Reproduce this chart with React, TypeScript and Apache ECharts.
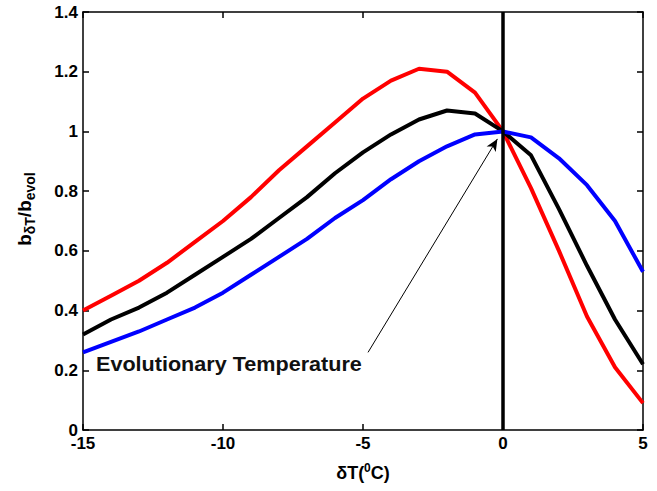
import React, { useEffect, useRef } from "react";
import * as echarts from "echarts";

const xValues = [-15, -14, -13, -12, -11, -10, -9, -8, -7, -6, -5, -4, -3, -2, -1, 0, 1, 2, 3, 4, 5];
const redValues = [0.40, 0.45, 0.50, 0.56, 0.63, 0.70, 0.78, 0.87, 0.95, 1.03, 1.11, 1.17, 1.21, 1.20, 1.13, 1.0, 0.81, 0.60, 0.38, 0.21, 0.09];
const blackValues = [0.32, 0.37, 0.41, 0.46, 0.52, 0.58, 0.64, 0.71, 0.78, 0.86, 0.93, 0.99, 1.04, 1.07, 1.06, 1.0, 0.92, 0.74, 0.55, 0.37, 0.22];
const blueValues = [0.26, 0.295, 0.33, 0.37, 0.41, 0.46, 0.52, 0.58, 0.64, 0.71, 0.77, 0.84, 0.90, 0.95, 0.99, 1.0, 0.98, 0.91, 0.82, 0.70, 0.53];
const annotationText = "Evolutionary Temperature";
const arrowStart = [-4.82, 0.26];
const arrowEnd = [-0.2, 0.975];

const FONT = "Liberation Sans, Arial, sans-serif";

export default function App() {
  const ref = useRef<HTMLDivElement>(null);
  useEffect(() => {
    document.body.style.margin = "0";
    if (!ref.current) return;
    const chart = echarts.init(ref.current, undefined, { renderer: "svg" });
    const mk = (vals: number[]) => xValues.map((x, i) => [x, vals[i]]);
    const lineSeries = (name: string, vals: number[], color: string) => ({
      name,
      type: "line",
      data: mk(vals),
      symbol: "none",
      smooth: false,
      lineStyle: { color, width: 4 },
      itemStyle: { color },
      z: 3,
    });
    const tickStyle = { show: true, inside: true, length: 6, lineStyle: { color: "#000", width: 1.5 } };
    const lineStyleAxis = { show: true, onZero: false, lineStyle: { color: "#000", width: 1.5 } };
    chart.setOption({
      animation: false,
      backgroundColor: "#fff",
      grid: { left: 83, right: 14, top: 12, bottom: 61 },
      xAxis: [
        {
          type: "value",
          min: -15,
          max: 5,
          interval: 5,
          axisLine: lineStyleAxis,
          axisTick: tickStyle,
          axisLabel: { color: "#000", fontSize: 17, fontWeight: "bold", fontFamily: FONT, margin: 5 },
          splitLine: { show: false },
          name: "{a|δT(}{s|0}{a|C)}",
          nameLocation: "middle",
          nameGap: 32,
          nameTextStyle: {
            rich: {
              a: { fontSize: 18, fontFamily: FONT, color: "#000", fontWeight: "bold" },
              s: { fontSize: 12, fontFamily: FONT, color: "#000", fontWeight: "bold", padding: [0, 0, 10, 0] },
            },
          },
        },
        {
          type: "value",
          position: "top",
          min: -15,
          max: 5,
          interval: 5,
          axisLine: lineStyleAxis,
          axisTick: tickStyle,
          axisLabel: { show: false },
          splitLine: { show: false },
        },
      ],
      yAxis: [
        {
          type: "value",
          min: 0,
          max: 1.4,
          interval: 0.2,
          axisLine: lineStyleAxis,
          axisTick: tickStyle,
          axisLabel: {
            color: "#000",
            fontSize: 17,
            fontWeight: "bold",
            fontFamily: FONT,
            margin: 5,
            formatter: (v: number) => String(Math.round(v * 10) / 10),
          },
          splitLine: { show: false },
        },
        {
          type: "value",
          position: "right",
          min: 0,
          max: 1.4,
          interval: 0.2,
          axisLine: lineStyleAxis,
          axisTick: tickStyle,
          axisLabel: { show: false },
          splitLine: { show: false },
        },
      ],
      graphic: [
        {
          type: "text",
          x: 24,
          y: 209,
          rotation: Math.PI / 2,
          style: {
            text: "{a|b}{s|δT}{a|/b}{s|evol}",
            align: "center",
            verticalAlign: "middle",
            rich: {
              a: { fontSize: 19, fontFamily: FONT, fill: "#000", fontWeight: "bold" },
              s: { fontSize: 14, fontFamily: FONT, fill: "#000", fontWeight: "bold", padding: [12, 0, 0, 0] },
            },
          },
        },
        {
          type: "text",
          x: 96,
          y: 364,
          scaleX: 1.08,
          style: {
            text: annotationText,
            align: "left",
            verticalAlign: "middle",
            fontSize: 20,
            fontFamily: FONT,
            fontWeight: "bold",
            fill: "#111",
          },
          z: 10,
        },
      ],
      series: [
        lineSeries("red", redValues, "#ff0000"),
        lineSeries("black", blackValues, "#000000"),
        {
          ...lineSeries("blue", blueValues, "#0000ff"),
          markLine: {
            silent: true,
            symbol: ["none", "none"],
            label: { show: false },
            lineStyle: { color: "#000", width: 3.5, type: "solid" },
            data: [{ xAxis: 0 }],
            z: 5,
          },
        },
        {
          type: "line",
          data: [],
          markLine: {
            silent: true,
            symbol: ["none", "arrow"],
            symbolSize: [8, 12],
            label: { show: false },
            lineStyle: { color: "#000", width: 1, type: "solid" },
            data: [[{ coord: arrowStart }, { coord: arrowEnd }]],
          },
        },
      ],
    });
    return () => chart.dispose();
  }, []);
  return <div ref={ref} style={{ width: 657, height: 491 }} />;
}
